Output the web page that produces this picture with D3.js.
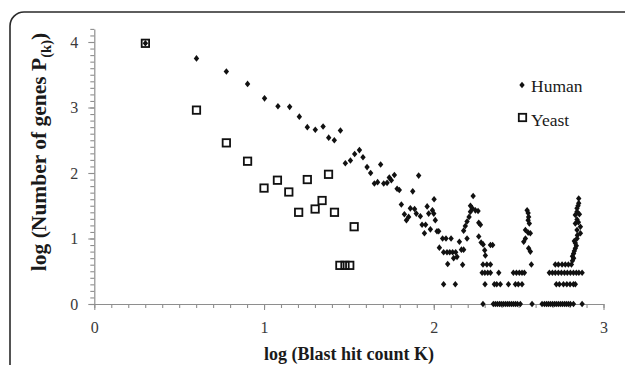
<!DOCTYPE html>
<html>
<head>
<meta charset="utf-8">
<script src="https://cdn.jsdelivr.net/npm/d3@7"></script>
<style>
  html, body { margin: 0; padding: 0; background: #fff; }
  svg { display: block; }
</style>
</head>
<body>
<figure id="chart" style="margin:0"></figure>
<script>
// log10 of blast hit count, and log10 of number of genes
const yeastK = [0.301, 0.602, 0.778, 0.903, 1.0, 1.079, 1.146, 1.204, 1.255, 1.301, 1.342, 1.380, 1.415, 1.447, 1.477, 1.505, 1.531];
const yeastP = [3.98, 2.96, 2.46, 2.18, 1.77, 1.89, 1.71, 1.40, 1.90, 1.45, 1.58, 1.98, 1.40, 0.59, 0.59, 0.59, 1.18];

const humanPoints = [
  [0.301, 3.98], [0.602, 3.75], [0.778, 3.55], [0.903, 3.36], [1.003, 3.14], [1.082, 3.02], [1.151, 3.01],
  [1.208, 2.86], [1.255, 2.70], [1.302, 2.66], [1.348, 2.71], [1.381, 2.54], [1.414, 2.50], [1.450, 2.65],
  [1.479, 2.15], [1.509, 2.19], [1.534, 2.29], [1.562, 2.35], [1.583, 2.24], [1.607, 2.09], [1.628, 2.00],
  [1.650, 1.84], [1.669, 1.86], [1.687, 2.13], [1.705, 1.84], [1.725, 1.85], [1.738, 1.93], [1.750, 1.89],
  [1.768, 1.97], [1.784, 1.76], [1.797, 1.74], [1.809, 1.52], [1.827, 1.37], [1.839, 1.28], [1.852, 1.33],
  [1.862, 1.46], [1.876, 1.72], [1.887, 1.45], [1.897, 1.38], [1.911, 1.96], [1.921, 1.34], [1.931, 1.21],
  [1.945, 1.08], [1.952, 1.21], [1.961, 1.49], [1.970, 1.38], [1.980, 1.14], [1.992, 1.43], [2.002, 1.60],
  [2.000, 1.38], [2.009, 1.28], [2.019, 1.11], [2.029, 1.11], [2.033, 0.86],
  [2.052, 1.00], [2.072, 1.00], [2.102, 1.00], [2.058, 0.79], [2.078, 0.79], [2.094, 0.79], [2.111, 0.79],
  [2.129, 0.79], [2.082, 0.61], [2.117, 0.70], [2.137, 0.72], [2.151, 0.95], [2.163, 0.83], [2.176, 0.83],
  [2.170, 0.60], [2.176, 1.12], [2.186, 1.19], [2.196, 1.00], [2.196, 1.26], [2.208, 1.33], [2.216, 1.41],
  [2.216, 1.50], [2.232, 1.65], [2.227, 1.46], [2.245, 1.43], [2.261, 1.42], [2.265, 1.24], [2.275, 1.21],
  [2.265, 1.03], [2.279, 0.94], [2.291, 0.91], [2.300, 0.82], [2.304, 0.74], [2.334, 0.90], [2.347, 0.90],
  // middle peak
  [2.550, 1.43], [2.556, 1.39], [2.559, 1.33], [2.556, 1.28], [2.563, 1.23], [2.540, 1.13], [2.556, 1.09],
  [2.569, 1.08], [2.530, 0.95], [2.540, 1.00], [2.559, 0.85], [2.569, 0.80],
  // right peak
  [2.854, 1.61], [2.854, 1.54], [2.850, 1.50], [2.844, 1.46], [2.844, 1.41], [2.858, 1.37], [2.834, 1.36],
  [2.844, 1.29], [2.852, 1.25], [2.834, 1.23], [2.864, 1.18], [2.844, 1.13], [2.864, 1.08], [2.846, 1.05],
  [2.844, 1.00], [2.828, 0.96], [2.834, 0.93], [2.840, 0.89], [2.834, 0.85], [2.828, 0.81], [2.824, 0.77],
  [2.817, 0.73], [2.824, 0.70], [2.817, 0.66],
  // count = 4
  [2.290, 0.602], [2.313, 0.602], [2.334, 0.602], [2.575, 0.602], [2.716, 0.602], [2.734, 0.602],
  [2.756, 0.602], [2.775, 0.602], [2.793, 0.602], [2.811, 0.602],
  // count = 3
  [2.285, 0.477], [2.301, 0.477], [2.318, 0.477], [2.334, 0.477], [2.383, 0.477], [2.469, 0.477],
  [2.487, 0.477], [2.504, 0.477], [2.520, 0.477], [2.534, 0.477], [2.681, 0.477], [2.699, 0.477],
  [2.716, 0.477], [2.734, 0.477], [2.752, 0.477], [2.770, 0.477], [2.787, 0.477], [2.805, 0.477],
  [2.823, 0.477], [2.840, 0.477], [2.855, 0.477], [2.874, 0.477],
  // count = 2
  [2.058, 0.301], [2.127, 0.301], [2.302, 0.301], [2.357, 0.301], [2.371, 0.301], [2.392, 0.301],
  [2.440, 0.301], [2.481, 0.301], [2.498, 0.301], [2.520, 0.301], [2.722, 0.301], [2.740, 0.301],
  [2.764, 0.301], [2.784, 0.301], [2.803, 0.301], [2.823, 0.301], [2.834, 0.301],
  // count = 1
  [2.290, 0], [2.351, 0], [2.363, 0], [2.375, 0], [2.387, 0], [2.398, 0], [2.410, 0], [2.422, 0],
  [2.434, 0], [2.445, 0], [2.457, 0], [2.469, 0], [2.481, 0], [2.493, 0], [2.510, 0], [2.579, 0],
  [2.638, 0], [2.652, 0], [2.664, 0], [2.675, 0], [2.687, 0], [2.699, 0], [2.711, 0], [2.722, 0],
  [2.734, 0], [2.746, 0], [2.758, 0], [2.770, 0], [2.781, 0], [2.793, 0], [2.805, 0], [2.823, 0], [2.874, 0]
];

const xTicks = [0, 1, 2, 3];
const yTicks = [0, 1, 2, 3, 4];
const seriesNames = ["Human", "Yeast"];

const width = 625, height = 365;
const serif = "'Liberation Serif', 'DejaVu Serif', serif";
const axisColor = "#8e8e8e";

const svg = d3.select("#chart").append("svg")
  .attr("width", width)
  .attr("height", height);

// rounded frame, only top and left visible
svg.append("rect")
  .attr("x", 10).attr("y", 12)
  .attr("width", 640).attr("height", 420)
  .attr("rx", 14)
  .attr("fill", "none")
  .attr("stroke", "#2a2a2a")
  .attr("stroke-width", 1.6);

const x = d3.scaleLinear().domain([0, 3]).range([94.3, 603.5]);
const y = d3.scaleLinear().domain([0, 4.2]).range([304, 304 - 4.2 * 65.5]);

// x axis
const xAxis = svg.append("g").attr("transform", "translate(0,304)");
xAxis.call(d3.axisBottom(x).tickValues(d3.range(0, 3.001, 0.1)).tickSize(4).tickSizeOuter(0).tickFormat(""));
xAxis.select(".domain").attr("stroke", axisColor).attr("stroke-width", 1.2);
xAxis.selectAll(".tick line").attr("stroke", axisColor).attr("stroke-width", 1.1);

const xLabels = svg.append("g").attr("transform", "translate(0,304)");
xLabels.call(d3.axisBottom(x).tickValues(xTicks).tickSize(6).tickPadding(12).tickFormat(d3.format("d")));
xLabels.select(".domain").remove();
xLabels.selectAll(".tick line").attr("stroke", axisColor).attr("stroke-width", 1.1);
xLabels.selectAll("text")
  .attr("font-family", serif).attr("font-size", 16).attr("fill", "#3a3a3a");

// y axis
const yAxis = svg.append("g").attr("transform", "translate(94.3,0)");
yAxis.call(d3.axisLeft(y).tickValues(d3.range(0, 4.201, 0.1)).tickSize(4).tickSizeOuter(0).tickFormat(""));
yAxis.select(".domain").attr("stroke", axisColor).attr("stroke-width", 1.2);
yAxis.selectAll(".tick line").attr("stroke", axisColor).attr("stroke-width", 1.1);

const yLabels = svg.append("g").attr("transform", "translate(94.3,0)");
yLabels.call(d3.axisLeft(y).tickValues(yTicks).tickSize(6).tickPadding(10).tickFormat(d3.format("d")));
yLabels.select(".domain").remove();
yLabels.selectAll(".tick line").attr("stroke", axisColor).attr("stroke-width", 1.1);
yLabels.selectAll("text")
  .attr("font-family", serif).attr("font-size", 16).attr("fill", "#3a3a3a");

// axis titles
svg.append("text")
  .attr("x", (x(0) + x(3)) / 2)
  .attr("y", 360)
  .attr("text-anchor", "middle")
  .attr("font-family", serif)
  .attr("font-weight", "bold")
  .attr("font-size", 18)
  .attr("fill", "#1a1a1a")
  .text("log (Blast hit count K)");

const yTitle = svg.append("text")
  .attr("transform", "translate(46,152) rotate(-90)")
  .attr("text-anchor", "middle")
  .attr("font-family", serif)
  .attr("font-weight", "bold")
  .attr("font-size", 21.5)
  .attr("fill", "#1a1a1a");
yTitle.append("tspan").text("log (Number of genes P");
yTitle.append("tspan").attr("font-size", 14.5).attr("dy", 4.5).text("(k)");
yTitle.append("tspan").attr("dy", -4.5).text(")");

// markers
const diamond = "M0,-3.3L2.7,0L0,3.3L-2.7,0Z";

svg.append("g")
  .selectAll("path")
  .data(humanPoints)
  .enter()
  .append("path")
  .attr("d", diamond)
  .attr("transform", d => `translate(${x(d[0])},${y(d[1])})`)
  .attr("fill", "#111");

svg.append("g")
  .selectAll("rect")
  .data(yeastK.map((k, i) => [k, yeastP[i]]))
  .enter()
  .append("rect")
  .attr("x", d => x(d[0]) - 3.7)
  .attr("y", d => y(d[1]) - 3.7)
  .attr("width", 7.4)
  .attr("height", 7.4)
  .attr("fill", "none")
  .attr("stroke", "#111")
  .attr("stroke-width", 1.8);

// legend
const legend = svg.append("g").attr("font-family", serif).attr("font-size", 17.5).attr("fill", "#1a1a1a");
legend.append("path").attr("d", diamond).attr("transform", "translate(522,85)").attr("fill", "#111");
legend.append("text").attr("x", 531).attr("y", 92).text(seriesNames[0]);
legend.append("rect").attr("x", 518.8).attr("y", 113.8).attr("width", 7.4).attr("height", 7.4)
  .attr("fill", "none").attr("stroke", "#111").attr("stroke-width", 1.8);
legend.append("text").attr("x", 531).attr("y", 126).text(seriesNames[1]);
</script>
</body>
</html>
